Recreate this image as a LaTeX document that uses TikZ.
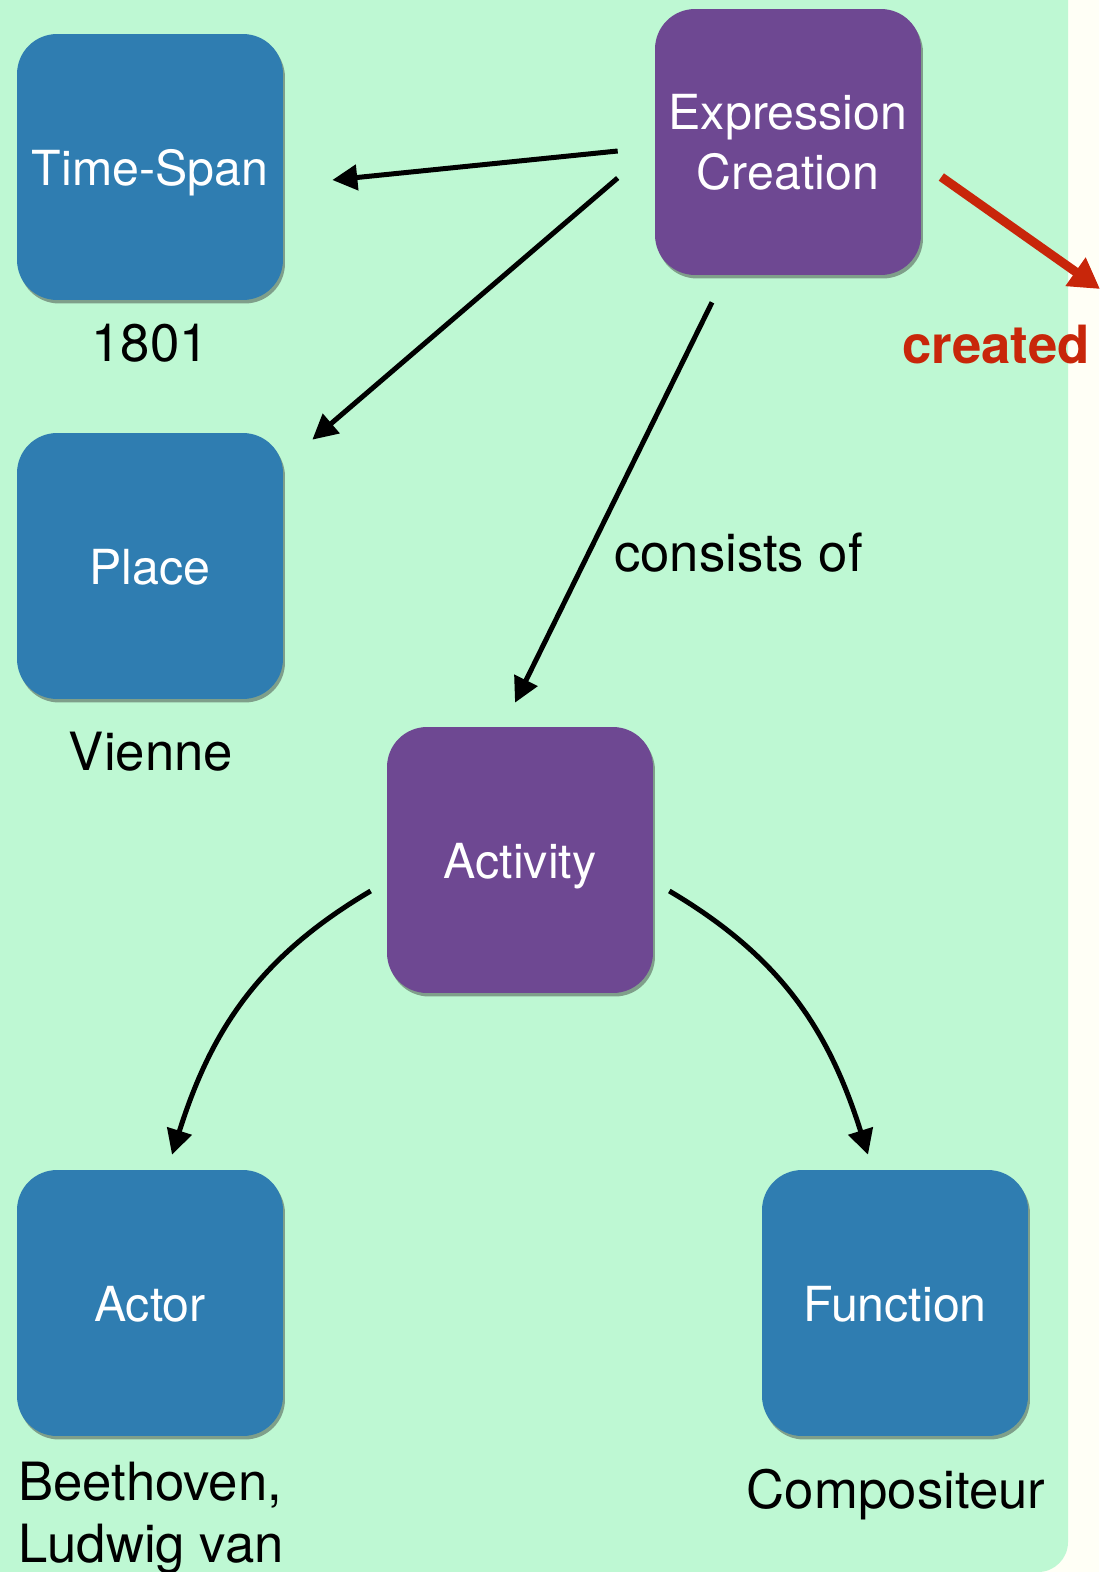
\documentclass[tikz,border=0pt]{standalone}
\usepackage{fontspec}
\setmainfont{TeX Gyre Heros}
\usepackage{tikz}
\usetikzlibrary{arrows.meta,shadows}
\definecolor{mint}{HTML}{BEF8D3}
\definecolor{ivory}{HTML}{FFFFF6}
\definecolor{entityblue}{HTML}{2F7DB1}
\definecolor{eventpurple}{HTML}{6E4892}
\definecolor{linkred}{HTML}{C8260A}
\tikzset{
	class/.style={rounded corners=0.8cm, minimum width=5.32cm,
		minimum height=5.32cm, text=white, align=center,
		font=\fontsize{27.5}{34}\selectfont,
		drop shadow={shadow xshift=0.04cm, shadow yshift=-0.07cm,
			opacity=0.45, fill=black!80}},
	oneline/.style={text height=21.5pt, text depth=0pt},
	entity/.style={class, oneline, fill=entityblue},
	event/.style={class, fill=eventpurple},
	value/.style={inner sep=0pt, font=\fontsize{30}{35}\selectfont},
	link/.style={-{Triangle[length=0.5cm,width=0.5cm]}, line width=0.1cm},
	redlink/.style={-{Triangle[length=0.6cm,width=0.66cm]}, line width=0.18cm,
		draw=linkred},
}

\begin{document}
\begin{tikzpicture}[x=0.02cm, y=-0.02cm]
	\useasboundingbox (0,0) rectangle (1099,1572);
	\fill[ivory] (0,0) rectangle (1099,1572);
	\fill[mint] (0,0) -- (1068,0) [rounded corners=0.6cm] -- (1068,1572)
		[sharp corners] -- (0,1572) -- cycle;

	\node[entity] (time) at (150,167) {Time-Span};
	\node[event] (expr) at (788,142) {Expression\\Creation};
	\node[entity] (place) at (150,566) {Place};
	\node[event, oneline] (act) at (520,860) {Activity};
	\node[entity] (actor) at (150,1303) {Actor};
	\node[entity] (func) at (895,1303) {Function};

	\node[value] (year) at (150,343) {1801};
	\node[value] (city) at (151,752) {Vienne};
	\node[value, align=left, anchor=base west] (person) at (18,1562)
		{Beethoven,\\Ludwig van};
	\node[value] (role) at (896,1495) {Compositeur};
	\node[value, font=\bfseries\fontsize{30}{35}\selectfont, text=linkred]
		(created) at (996,345) {created};
	\coordinate (offpage) at (1100,289);

	\draw[link] ([shift={(-37,9)}]expr.west) --
		([shift={(49,13)}]time.east);
	\draw[link] ([shift={(-37,36)}]expr.west) --
		([shift={(29,7)}]place.north east);
	\draw[link] ([shift={(-76,27)}]expr.south) --
		node[value, pos=0.626, anchor=west, xshift=0.46cm] {consists of}
		([shift={(-5,-24)}]act.north);
	\draw[redlink] ([shift={(20,35)}]expr.east) -- (offpage);
	\draw[link] ([shift={(-16,31)}]act.west) .. controls +(-112,66)
		and +(39,-124) .. ([shift={(22,-15)}]actor.north);
	\draw[link] ([shift={(16,31)}]act.east) .. controls +(112,66)
		and +(-39,-124) .. ([shift={(-27,-15)}]func.north);
\end{tikzpicture}
\end{document}
